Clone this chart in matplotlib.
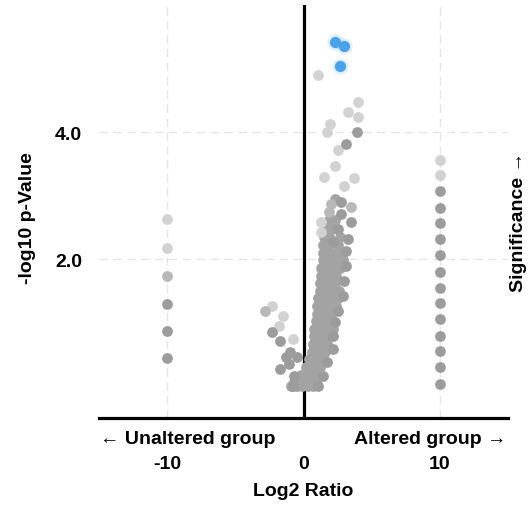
import matplotlib
matplotlib.use("Agg")
import matplotlib.pyplot as plt

# significant genes (blue)
sig_x = [2.35, 3.0, 2.65]
sig_y = [5.42, 5.35, 5.04]

# faint (light gray) points
light_x = [1.1, 4.04, 3.24, 3.97, 1.98, 1.76, 2.57, 2.35, 1.54, 3.68, 2.94,
           1.3, 1.25, -10, -10, 10, 10, -2.3, -1.5, -1.8, -0.8]
light_y = [4.90, 4.47, 4.31, 4.24, 4.13, 4.00, 3.72, 3.46, 3.29, 3.28, 3.15,
           2.58, 2.42, 2.63, 2.17, 3.56, 3.32, 1.26, 1.10, 0.94, 0.74]

# medium gray points
mid_x = [-10, -2.8, 3.46, 2.0, 1.84]
mid_y = [1.73, 1.18, 2.82, 2.87, 2.74]

# darker gray points: side columns, upper dots, left cluster, right edge of the V
dark_x = [-10, -10, -10,
          10, 10, 10, 10, 10, 10, 10, 10, 10, 10, 10, 10, 10,
          3.9, 3.09,
          -2.3, -1.7, -1.3, -1.0, -0.45, -1.7, -1.1, -0.7, -0.8,
          3.46, 3.24, 3.09, 3.09, 2.94, 2.87, 2.57, 2.35, 2.2, 2.13, 1.76, 1.4, 1.03,
          2.72, 2.72, 2.57, 2.2]
dark_y = [1.29, 0.87, 0.44,
          3.07, 2.80, 2.57, 2.31, 2.06, 1.80, 1.54, 1.31, 1.06, 0.79, 0.55, 0.30, 0.03,
          4.00, 3.81,
          0.85, 0.71, 0.46, 0.54, 0.46, 0.27, 0.35, 0.16, 0.00,
          2.58, 2.31, 2.13, 1.89, 1.66, 1.42, 1.18, 1.01, 0.79, 0.58, 0.38, 0.16, 0.00,
          2.90, 2.71, 2.47, 2.27]

# dense band of the V (rows)
band_x = [2.3,
          1.9, 2.3,
          1.7, 2.1,
          1.5, 1.9, 2.7,
          1.4, 1.8, 2.5,
          1.4, 1.8, 2.1, 2.5,
          1.4, 1.7, 2.1, 2.5, 2.9,
          1.3, 1.6, 2.0, 2.4, 2.7,
          1.3, 1.6, 2.0, 2.4,
          1.2, 1.5, 1.9, 2.3,
          1.2, 1.5, 1.8, 2.2, 2.6,
          1.1, 1.4, 1.7, 2.1, 2.5,
          1.0, 1.3, 1.7, 2.1, 2.4,
          1.0, 1.3, 1.6, 2.0,
          0.9, 1.2, 1.5, 1.9,
          0.8, 1.1, 1.4, 1.8, 2.2,
          0.8, 1.1, 1.4, 1.8,
          0.7, 1.0, 1.3, 1.7,
          0.6, 0.9, 1.2, 1.6,
          0.4, 0.7, 1.0, 1.4,
          0.2, 0.5, 0.8, 1.2,
          -0.2, 0.1, 0.5, 0.9,
          -0.7, -0.3, 0.1, 0.5, 0.9,
          -0.9, -0.5, -0.1, 0.3, 0.7]
band_y = [2.95,
          2.62, 2.62,
          2.47, 2.47,
          2.35, 2.35, 2.35,
          2.22, 2.22, 2.22,
          2.10, 2.10, 2.10, 2.10,
          1.98, 1.98, 1.98, 1.98, 1.98,
          1.86, 1.86, 1.86, 1.86, 1.86,
          1.74, 1.74, 1.74, 1.74,
          1.62, 1.62, 1.62, 1.62,
          1.50, 1.50, 1.50, 1.50, 1.50,
          1.38, 1.38, 1.38, 1.38, 1.38,
          1.26, 1.26, 1.26, 1.26, 1.26,
          1.14, 1.14, 1.14, 1.14,
          1.02, 1.02, 1.02, 1.02,
          0.90, 0.90, 0.90, 0.90, 0.90,
          0.78, 0.78, 0.78, 0.78,
          0.66, 0.66, 0.66, 0.66,
          0.54, 0.54, 0.54, 0.54,
          0.42, 0.42, 0.42, 0.42,
          0.30, 0.30, 0.30, 0.30,
          0.18, 0.18, 0.18, 0.18,
          0.06, 0.06, 0.06, 0.06, 0.06,
          0.00, 0.00, 0.00, 0.00, 0.00]

x_ticks = [-10, 0, 10]
y_ticks = [2, 4]

plt.rcParams['font.family'] = ['Liberation Sans', 'DejaVu Sans']
plt.rcParams['font.size'] = 14
plt.rcParams['font.weight'] = 'bold'
plt.rcParams['axes.unicode_minus'] = False

fig = plt.figure(figsize=(5.3, 5.06), dpi=100)
ax = fig.add_axes([0.1877, 0.1725, 0.77, 0.8155])

ax.set_xlim(-15, 15)
ax.set_ylim(-0.5, 6)

# grid + zero line
ax.set_xticks(x_ticks)
ax.set_yticks(y_ticks)
ax.set_yticklabels(["%.1f" % v for v in y_ticks])
ax.grid(True, linestyle=(0, (6, 4)), color='#e6e6e6', linewidth=1, zorder=0)
ax.set_axisbelow(True)
ax.axvline(0, color='black', linewidth=2.3, zorder=1)

# points
ms = 60
ax.scatter(band_x, band_y, s=ms, color='#a3a3a3', linewidths=0, zorder=2)
ax.scatter(light_x, light_y, s=ms, color='#d2d2d2', linewidths=0, zorder=2)
ax.scatter(mid_x, mid_y, s=ms, color='#b8b8b8', linewidths=0, zorder=2)
ax.scatter(dark_x, dark_y, s=ms, color='#9c9c9c', linewidths=0, zorder=3)
ax.scatter(sig_x, sig_y, s=140, color='#4aa3ea', alpha=0.15, linewidths=0, zorder=3)
ax.scatter(sig_x, sig_y, s=66, color='#4aa3ea', linewidths=0, zorder=4)

for side in ['left', 'top', 'right']:
    ax.spines[side].set_visible(False)
ax.spines['bottom'].set_linewidth(2.3)
ax.spines['bottom'].set_color('black')
ax.tick_params(axis='both', length=0)
ax.tick_params(axis='x', pad=27)
ax.tick_params(axis='y', pad=12.5)

fig.text(100 / 530, 1 - 440 / 506, '\u2190 Unaltered group', ha='left', va='center')
fig.text(507 / 530, 1 - 440 / 506, 'Altered group \u2192', ha='right', va='center')
fig.text(303.5 / 530, 1 - 492 / 506, 'Log2 Ratio', ha='center', va='center')
fig.text(27 / 530, 1 - 218 / 506, '-log10 p-Value', rotation=90, ha='center', va='center')
fig.text(510 / 530, 1 - 222 / 506, 'Significance \u2192', rotation=90, ha='left', va='center')

fig.savefig('out.png', dpi=100)
